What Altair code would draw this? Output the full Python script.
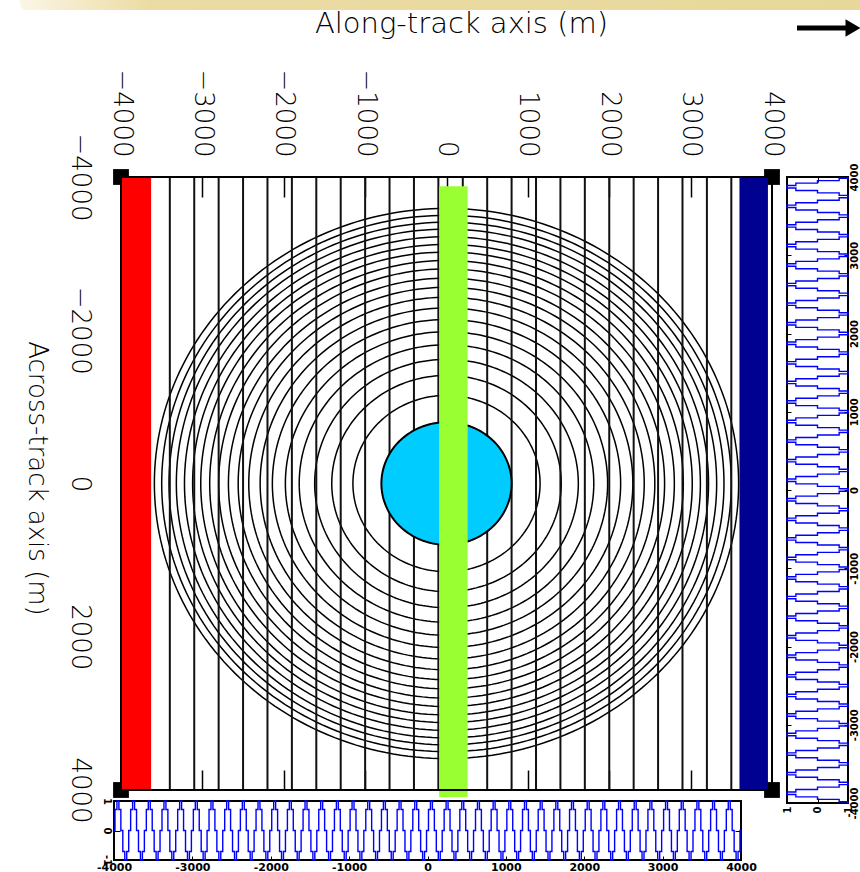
import math
import altair as alt
import pandas as pd

# ---------------- chart values ----------------
# along-track positions (m) of the vertical iso-Doppler lines
along_lines = [-3400, -3100, -2800, -2500, -2200, -1900, -1600, -1300, -1000, -700,
               -400, -100, 200, 500, 800, 1100, 1400, 1700, 2000, 2300, 2600, 2900,
               3200, 3500]
# radii (m) of the concentric iso-range rings
ring_radii = [1150, 1410, 1620, 1810, 1980, 2140, 2290, 2430, 2560, 2680, 2800,
              2910, 3020, 3120, 3220, 3320, 3410, 3500, 3590]
disc_radius = 800

# coloured strips: [along start, along end, across start, across end, colour]
strips = [
    [-4000, -3630, -4000, 4000, "#FF0000"],
    [3600, 3950, -4000, 4000, "#000091"],
    [-90, 260, -3880, 4090, "#99FF33"],
]

along_ticks = [-4000, -3000, -2000, -1000, 0, 1000, 2000, 3000, 4000]
inner_ticks = [-3000, -2000, -1000, 0, 1000, 2000, 3000]
across_ticks = [-4000, -2000, 0, 2000, 4000]
unit_ticks = [-1, 0, 1]

# one period of the sampled antenna-pattern wave (8 samples, peak first)
wave_cycle = [1.0, 0.71, 0.0, -0.71, -1.0, -0.71, 0.0, 0.71]
bottom_start, bottom_step, bottom_count, bottom_phase = -4000, 25, 321, 6
side_start, side_step, side_count, side_phase = -4000, 31.25, 257, 4

# ---------------- layout (pixels) ----------------
W, H = 860, 872
MAIN_X, MAIN_Y = [121, 772], [177, 790]
BOT_X, BOT_Y = [114, 741], [860, 801]
SIDE_X, SIDE_Y = [848, 787], [803, 177]

FONT = "DejaVu Sans"


def lin(domain, rng):
    return alt.Scale(domain=domain, range=rng, nice=False, zero=False)


def main_x():
    return lin([-4000, 4000], MAIN_X)


def main_y():
    return lin([-4000, 4000], MAIN_Y)


def bot_x():
    return lin([-4000, 4000], BOT_X)


def bot_y():
    return lin([-1, 1], BOT_Y)


def side_x():
    return lin([-1, 1], SIDE_X)


def side_y():
    return lin([-4000, 4000], SIDE_Y)


BASE_AXIS = dict(grid=False, domain=False, labelFlush=False, labelOverlap=False,
                 labelColor="black", tickColor="black")


def x_axis_layer(values, xs, ys, y_const, **kw):
    opts = dict(BASE_AXIS)
    opts.update(kw)
    opts.setdefault("title", None)
    df = pd.DataFrame({"p": values, "q": [y_const] * len(values)})
    return alt.Chart(df).mark_point(opacity=0).encode(
        x=alt.X("p:Q", scale=xs, axis=alt.Axis(values=values, **opts)),
        y=alt.Y("q:Q", scale=ys, axis=None, title=None),
    )


def y_axis_layer(values, xs, ys, x_const, **kw):
    opts = dict(BASE_AXIS)
    opts.update(kw)
    opts.setdefault("title", None)
    df = pd.DataFrame({"q": values, "p": [x_const] * len(values)})
    return alt.Chart(df).mark_point(opacity=0).encode(
        x=alt.X("p:Q", scale=xs, axis=None, title=None),
        y=alt.Y("q:Q", scale=ys, axis=alt.Axis(values=values, **opts)),
    )


hyphen_label = "datum.value < 0 ? '-' + format(-datum.value, 'd') : format(datum.value, 'd')"

# ---------------- decoration: header band and arrow ----------------
one = pd.DataFrame({"k": [0]})
band = alt.Chart(one).mark_rect(
    color=alt.LinearGradient(
        gradient="linear",
        stops=[alt.GradientStop(color="#fbf6e6", offset=0),
               alt.GradientStop(color="#ecdca4", offset=0.15),
               alt.GradientStop(color="#e8d79a", offset=1)],
        x1=0, x2=1, y1=0, y2=0),
    cornerRadius=6,
).encode(x=alt.value(20), x2=alt.value(870), y=alt.value(-8), y2=alt.value(10))

arrow_shaft = alt.Chart(one).mark_rule(color="black", strokeWidth=5).encode(
    x=alt.value(797), x2=alt.value(848), y=alt.value(28))
arrow_head = alt.Chart(one).mark_point(
    shape="triangle-right", filled=True, color="black", size=300, opacity=1
).encode(x=alt.value(853), y=alt.value(28))

# ---------------- main map ----------------
corner_df = pd.DataFrame({"a": [-4000, 4000, -4000, 4000], "c": [-4000, -4000, 4000, 4000]})
corners = alt.Chart(corner_df).mark_square(size=250, color="black", opacity=1).encode(
    x=alt.X("a:Q", scale=main_x(), axis=None, title=None),
    y=alt.Y("c:Q", scale=main_y(), axis=None, title=None),
)

ring_rows = []
for r in ring_radii + [disc_radius]:
    for j in range(241):
        t = 2 * math.pi * j / 240
        ring_rows.append({"r": r, "j": j, "a": r * math.cos(t), "c": r * math.sin(t)})
ring_df = pd.DataFrame(ring_rows)
rings = alt.Chart(ring_df[ring_df.r != disc_radius]).mark_line(
    color="black", strokeWidth=1.5
).encode(
    x=alt.X("a:Q", scale=main_x(), axis=None, title=None),
    y=alt.Y("c:Q", scale=main_y(), axis=None, title=None),
    detail="r:N", order="j:Q",
)

line_df = pd.DataFrame({"a": along_lines, "lo": -4000, "hi": 4000})
track = alt.Chart(line_df).mark_rule(color="#111111", strokeWidth=2).encode(
    x=alt.X("a:Q", scale=main_x(), axis=None, title=None),
    y=alt.Y("lo:Q", scale=main_y(), axis=None, title=None), y2="hi:Q",
)

disc_a = [disc_radius * (k / 100 - 1) for k in range(201)]
disc_df = pd.DataFrame({
    "a": disc_a,
    "lo": [-math.sqrt(max(disc_radius ** 2 - a * a, 0)) for a in disc_a],
    "hi": [math.sqrt(max(disc_radius ** 2 - a * a, 0)) for a in disc_a],
})
disc = alt.Chart(disc_df).mark_area(color="#00CCFF", opacity=1).encode(
    x=alt.X("a:Q", scale=main_x(), axis=None, title=None),
    y=alt.Y("lo:Q", scale=main_y(), axis=None, title=None), y2="hi:Q",
)
disc_edge = alt.Chart(ring_df[ring_df.r == disc_radius]).mark_line(
    color="black", strokeWidth=2
).encode(
    x=alt.X("a:Q", scale=main_x(), axis=None, title=None),
    y=alt.Y("c:Q", scale=main_y(), axis=None, title=None),
    order="j:Q",
)

strip_df = pd.DataFrame(strips, columns=["a0", "a1", "c0", "c1", "col"])
strip_marks = alt.Chart(strip_df).mark_rect(opacity=1).encode(
    x=alt.X("a0:Q", scale=main_x(), axis=None, title=None), x2="a1:Q",
    y=alt.Y("c0:Q", scale=main_y(), axis=None, title=None), y2="c1:Q",
    color=alt.Color("col:N", scale=None),
)

frame_df = pd.DataFrame({"a0": [-4000], "a1": [4000], "c0": [-4000], "c1": [4000]})
main_frame = alt.Chart(frame_df).mark_rect(
    fillOpacity=0, stroke="black", strokeWidth=2
).encode(
    x=alt.X("a0:Q", scale=main_x(), axis=None, title=None), x2="a1:Q",
    y=alt.Y("c0:Q", scale=main_y(), axis=None, title=None), y2="c1:Q",
)

top_labels = x_axis_layer(
    along_ticks, main_x(), main_y(), 0, orient="top", offset=-MAIN_Y[0],
    ticks=False, tickSize=0, labelAngle=90, labelAlign="right", labelBaseline="middle",
    labelPadding=20, labelFont=FONT, labelFontSize=26, labelFontWeight=200, format="d",
    title="Along-track axis (m)", titleFont=FONT, titleFontSize=29, titleFontWeight=200,
    titleColor="black", titleX=461, titleY=23 - MAIN_Y[0], titleAngle=0,
    titleAlign="center", titleBaseline="middle",
)
top_ticks = x_axis_layer(
    inner_ticks, main_x(), main_y(), 0, orient="bottom", offset=MAIN_Y[0] - H,
    labels=False, tickSize=20, tickWidth=1.5,
)
bottom_ticks = x_axis_layer(
    inner_ticks, main_x(), main_y(), 0, orient="top", offset=-MAIN_Y[1],
    labels=False, tickSize=20, tickWidth=1.5,
)
left_labels = y_axis_layer(
    across_ticks, main_x(), main_y(), 0, orient="left", offset=-MAIN_X[0],
    ticks=False, tickSize=0, labelAngle=90, labelAlign="center", labelBaseline="top",
    labelPadding=29, labelFont=FONT, labelFontSize=26, labelFontWeight=200, format="d",
    title="Across-track axis (m)", titleFont=FONT, titleFontSize=26, titleFontWeight=200,
    titleColor="black", titleX=36 - MAIN_X[0], titleY=478, titleAngle=90,
    titleAlign="center", titleBaseline="middle",
)

# ---------------- bottom wave panel ----------------
bw_df = pd.DataFrame({
    "x": [bottom_start + bottom_step * i for i in range(bottom_count)],
    "v": [wave_cycle[(i + bottom_phase) % 8] for i in range(bottom_count)],
})
bottom_wave = alt.Chart(bw_df).mark_line(
    interpolate="step", color="#0000FF", strokeWidth=1.4
).encode(
    x=alt.X("x:Q", scale=bot_x(), axis=None, title=None),
    y=alt.Y("v:Q", scale=bot_y(), axis=None, title=None),
)
bot_frame_df = pd.DataFrame({"x0": [-4000], "x1": [4000], "v0": [-1], "v1": [1]})
bottom_frame = alt.Chart(bot_frame_df).mark_rect(
    fillOpacity=0, stroke="black", strokeWidth=2
).encode(
    x=alt.X("x0:Q", scale=bot_x(), axis=None, title=None), x2="x1:Q",
    y=alt.Y("v0:Q", scale=bot_y(), axis=None, title=None), y2="v1:Q",
)
bottom_x_labels = x_axis_layer(
    along_ticks, bot_x(), bot_y(), 0, orient="bottom", offset=BOT_Y[0] - H,
    ticks=False, tickSize=0, labelPadding=1, labelFont=FONT, labelFontSize=11,
    labelFontWeight="bold", labelExpr=hyphen_label, labelAlign="center",
    labelBaseline="top",
)
bottom_x_ticks = x_axis_layer(
    inner_ticks, bot_x(), bot_y(), 0, orient="top", offset=-BOT_Y[0],
    labels=False, tickSize=4, tickWidth=1,
)
bottom_y_labels = y_axis_layer(
    unit_ticks, bot_x(), bot_y(), 0, orient="left", offset=-BOT_X[0],
    ticks=False, tickSize=0, labelPadding=3, labelAngle=90, labelAlign="center",
    labelBaseline="top", labelFont=FONT, labelFontSize=10, labelFontWeight="bold",
    labelExpr=hyphen_label,
)
bottom_y_ticks_l = y_axis_layer(
    [0], bot_x(), bot_y(), 0, orient="right", offset=BOT_X[0] - W,
    labels=False, tickSize=6, tickWidth=1,
)
bottom_y_ticks_r = y_axis_layer(
    [0], bot_x(), bot_y(), 0, orient="left", offset=-BOT_X[1],
    labels=False, tickSize=6, tickWidth=1,
)

# ---------------- side wave panel ----------------
side_rows = []
half = side_step / 2
for i in range(side_count):
    centre = side_start + side_step * i
    v = wave_cycle[(i + side_phase) % 8]
    for k, a in enumerate((centre - half, centre + half)):
        side_rows.append({"v": v, "a": min(max(a, -4000), 4000), "o": 2 * i + k})
sw_df = pd.DataFrame(side_rows)
side_wave = alt.Chart(sw_df).mark_line(color="#0000FF", strokeWidth=1.4).encode(
    x=alt.X("v:Q", scale=side_x(), axis=None, title=None),
    y=alt.Y("a:Q", scale=side_y(), axis=None, title=None),
    order="o:Q",
)
side_frame_df = pd.DataFrame({"v0": [-1], "v1": [1], "a0": [-4000], "a1": [4000]})
side_frame = alt.Chart(side_frame_df).mark_rect(
    fillOpacity=0, stroke="black", strokeWidth=2
).encode(
    x=alt.X("v0:Q", scale=side_x(), axis=None, title=None), x2="v1:Q",
    y=alt.Y("a0:Q", scale=side_y(), axis=None, title=None), y2="a1:Q",
)
side_y_labels = y_axis_layer(
    along_ticks, side_x(), side_y(), 0, orient="right", offset=SIDE_X[0] - W,
    ticks=False, tickSize=0, labelPadding=1, labelAngle=270, labelAlign="center",
    labelBaseline="top", labelFont=FONT, labelFontSize=10, labelFontWeight="bold",
    labelExpr=hyphen_label,
)
side_y_ticks_l = y_axis_layer(
    inner_ticks, side_x(), side_y(), 0, orient="right", offset=SIDE_X[1] - W,
    labels=False, tickSize=4, tickWidth=1,
)
side_y_ticks_r = y_axis_layer(
    inner_ticks, side_x(), side_y(), 0, orient="left", offset=-SIDE_X[0],
    labels=False, tickSize=4, tickWidth=1,
)
side_x_labels = x_axis_layer(
    unit_ticks, side_x(), side_y(), 0, orient="bottom", offset=SIDE_Y[0] - H,
    ticks=False, tickSize=0, labelPadding=3, labelAngle=270, labelAlign="right",
    labelBaseline="middle", labelFont=FONT, labelFontSize=10, labelFontWeight="bold",
    labelExpr=hyphen_label,
)
side_x_ticks = x_axis_layer(
    [0], side_x(), side_y(), 0, orient="top", offset=-SIDE_Y[0],
    labels=False, tickSize=5, tickWidth=1,
)
side_x_ticks_top = x_axis_layer(
    [0], side_x(), side_y(), 0, orient="bottom", offset=SIDE_Y[1] - H,
    labels=False, tickSize=5, tickWidth=1,
)

chart = alt.layer(
    band, arrow_shaft, arrow_head,
    corners, rings, track, disc, disc_edge, strip_marks, main_frame,
    top_labels, top_ticks, bottom_ticks, left_labels,
    bottom_frame, bottom_wave, bottom_x_labels, bottom_x_ticks, bottom_y_labels,
    bottom_y_ticks_l, bottom_y_ticks_r,
    side_frame, side_wave, side_y_labels, side_y_ticks_l, side_y_ticks_r,
    side_x_labels, side_x_ticks, side_x_ticks_top,
).resolve_scale(
    x="independent", y="independent"
).properties(
    width=W, height=H, autosize=alt.AutoSizeParams(type="none"), padding=0,
    background="white",
).configure_view(stroke=None)

chart.save("out.html", embed_options={"renderer": "svg", "actions": False})
